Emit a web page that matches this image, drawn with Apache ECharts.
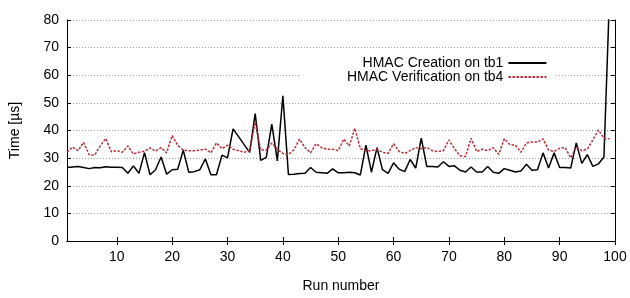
<!DOCTYPE html>
<html><head><meta charset="utf-8">
<script src="https://cdn.jsdelivr.net/npm/echarts@6/dist/echarts.min.js"></script>
<style>html,body{margin:0;padding:0;background:#fff}#c{width:630px;height:298px}</style>
</head><body><div id="c"></div>
<script>
const seriesNames = ["HMAC Creation on tb1", "HMAC Verification on tb4"];
const creation = [26.6,26.8,27.0,26.6,26.2,26.6,26.5,26.9,26.7,26.7,
  26.6,24.5,27.2,24.5,32.0,24.0,25.8,30.4,24.2,25.8,
  26.0,32.9,24.9,25.1,25.8,29.7,24.0,24.0,31.1,30.1,
  40.6,37.8,34.9,32.1,46.1,29.2,30.3,42.3,29.0,52.6,
  24.1,24.2,24.4,24.5,26.6,24.9,24.7,24.5,26.1,24.7,
  24.7,24.9,24.7,23.9,34.7,24.9,33.8,25.8,24.5,28.3,
  26.0,25.1,29.5,26.4,37.2,27.0,27.0,26.8,28.7,27.0,
  27.2,25.6,25.0,26.8,25.0,25.0,27.0,24.9,24.5,26.2,
  25.6,25.0,25.3,27.8,25.6,25.8,31.9,26.4,31.9,26.6,
  26.6,26.4,35.5,28.1,31.3,27.0,27.9,30.4,88];
const verification = [32.1,34.0,32.7,35.7,31.2,31.1,34.4,37.1,32.3,32.7,
  32.1,34.4,31.5,32.1,32.5,33.7,32.5,33.8,31.9,38.2,
  34.7,32.9,32.7,32.7,32.9,33.3,31.9,35.5,33.4,34.7,
  33.2,32.7,32.1,32.7,43.0,32.9,32.9,35.5,33.2,31.7,
  31.3,33.0,36.9,33.8,31.9,35.2,33.8,33.2,33.2,32.7,
  36.9,34.4,40.8,33.4,32.7,32.7,33.2,32.1,31.7,35.2,
  32.4,31.7,32.7,33.8,33.4,33.8,32.7,32.4,32.7,36.6,
  33.4,30.9,30.6,37.2,32.4,33.2,32.7,33.8,31.4,37.0,
  34.9,34.7,32.1,35.5,35.8,35.8,37.0,32.9,32.4,33.6,
  33.8,30.1,34.0,32.7,33.2,36.6,40.2,37.2,37.0];
const xTicks = [10,20,30,40,50,60,70,80,90,100];
const xMin = 1, xMax = 100, yMin = 0, yMax = 80, yStep = 10;

const toPts = arr => arr.map((v, i) => [i + 1, v]);
const FONT = 'Liberation Sans';
const chart = echarts.init(document.getElementById('c'), null, {renderer: 'canvas'});
const axisLine = {show: true, lineStyle: {color: '#000', width: 1}};
chart.setOption({
  animation: false,
  textStyle: {fontFamily: FONT},
  grid: {left: 63, right: 15, top: 20, bottom: 44},
  legend: {
    orient: 'vertical', align: 'right', left: 300, top: 55,
    padding: [1, 9, 5, 47], backgroundColor: '#fff',
    itemWidth: 38, itemHeight: 12, itemGap: 0,
    itemStyle: {opacity: 0, color: 'rgba(0,0,0,0)', borderWidth: 0},
    textStyle: {fontFamily: FONT, fontSize: 14, color: '#000', lineHeight: 12},
    data: seriesNames
  },
  xAxis: [{
    type: 'value', min: xMin, max: xMax, position: 'bottom',
    name: 'Run number', nameLocation: 'middle', nameGap: 38,
    nameTextStyle: {fontFamily: FONT, fontSize: 14, color: '#000'},
    axisLine, splitLine: {show: false},
    axisTick: {inside: true, length: 4, customValues: xTicks, lineStyle: {color: '#000'}},
    axisLabel: {customValues: xTicks, fontFamily: FONT, fontSize: 14, color: '#000', margin: 9}
  }, {
    type: 'value', min: xMin, max: xMax, position: 'top',
    axisLine, splitLine: {show: false},
    axisTick: {inside: true, length: 4, customValues: xTicks, lineStyle: {color: '#000'}},
    axisLabel: {show: false}
  }],
  yAxis: [{
    type: 'value', min: yMin, max: yMax, interval: yStep, position: 'left',
    name: 'Time [µs]', nameLocation: 'middle', nameGap: 45,
    nameTextStyle: {fontFamily: FONT, fontSize: 14, color: '#000'},
    axisLine,
    axisTick: {show: true, inside: true, length: 4, lineStyle: {color: '#000'}},
    axisLabel: {fontFamily: FONT, fontSize: 14, color: '#000', margin: 8},
    splitLine: {show: true, lineStyle: {color: '#999', width: 1, type: [1, 2]}}
  }, {
    type: 'value', min: yMin, max: yMax, interval: yStep, position: 'right',
    axisLine,
    axisTick: {show: true, inside: true, length: 4, lineStyle: {color: '#000'}},
    axisLabel: {show: false}, splitLine: {show: false}
  }],
  series: [{
    name: seriesNames[0], type: 'line', data: toPts(creation),
    symbol: 'none', clip: true, color: '#000',
    lineStyle: {color: '#000', width: 1.5}
  }, {
    name: seriesNames[1], type: 'line', data: toPts(verification),
    symbol: 'none', clip: true, color: '#b5303a',
    lineStyle: {color: '#b5303a', width: 1.5, type: [2.5, 1.5]}
  }]
});
</script></body></html>
